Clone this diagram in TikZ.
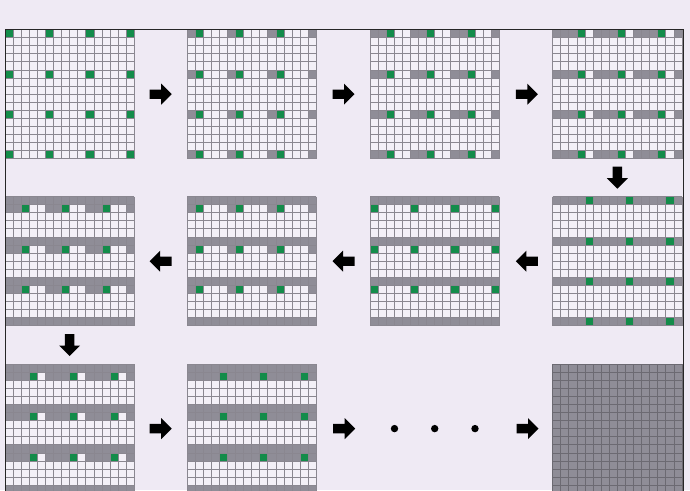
\documentclass[tikz,border=0pt]{standalone}
\definecolor{bg}{HTML}{EFEAF4}
\definecolor{cellc}{HTML}{F3F0F7}
\definecolor{grayc}{HTML}{8F8D97}
\definecolor{greenc}{HTML}{138C4A}
\definecolor{linec}{HTML}{8A8790}
\definecolor{darkline}{HTML}{6C6A72}
\def\cs{8.08}
\newcommand\Cells[5]{\foreach \ri in {#3}{\foreach \ci in {#4}{\fill[#5] ({#1+\ci*\cs},{#2+\ri*\cs}) rectangle ++(\cs,\cs);}}}
\newcommand\Rows[3]{\foreach \ri in {#3}{\fill[grayc] (#1,{#2+\ri*\cs}) rectangle ++({16*\cs},\cs);}}
\newcommand\Base[2]{\fill[cellc] (#1,#2) rectangle ++({16*\cs},{16*\cs});}
\newcommand\Lines[3]{\foreach \ii in {0,...,16}{\draw[#3,line width=0.75] ({#1+\ii*\cs},#2) -- ++(0,{16*\cs}); \draw[#3,line width=0.75] (#1,{#2+\ii*\cs}) -- ++({16*\cs},0);}}
\tikzset{blockarrow/.pic={\fill[black] (-11,-4.7) -- (0.5,-4.7) -- (0.5,-10.5) -- (11,0) -- (0.5,10.5) -- (0.5,4.7) -- (-11,4.7) -- cycle;},
  dotmark/.style={fill=black, circle, inner sep=0pt, minimum size=7.4pt}}
\begin{document}
\begin{tikzpicture}[x=1pt,y=-1pt]
\useasboundingbox (0,0) rectangle (690,490);
\fill[bg] (0,0) rectangle (690,490);
\clip (0,0) rectangle (690,490);
% Grid A
\Base{5}{29.5}
\Cells{5}{29.5}{0,5,10,15}{0,5,10,15}{greenc}
\Lines{5}{29.5}{linec}
% Grid B
\Base{187}{29.5}
\Cells{187}{29.5}{0,5,10,15}{0,5,10,15}{grayc}
\Cells{187}{29.5}{0,5,10,15}{1,6,11}{greenc}
\Lines{187}{29.5}{linec}
% Grid C
\Base{370}{29.5}
\Cells{370}{29.5}{0,5,10,15}{0,1,5,6,10,11,15}{grayc}
\Cells{370}{29.5}{0,5,10,15}{2,7,12}{greenc}
\Lines{370}{29.5}{linec}
% Grid D
\Base{552.7}{29.5}
\Cells{552.7}{29.5}{0,5,10,15}{0,1,2,5,6,7,10,11,12,15}{grayc}
\Cells{552.7}{29.5}{0,5,10,15}{3,8,13}{greenc}
\Lines{552.7}{29.5}{linec}
% Grid E
\Base{552.7}{196.5}
\Rows{552.7}{196.5}{0,5,10,15}
\Cells{552.7}{196.5}{0,5,10,15}{4,9,14}{greenc}
\Lines{552.7}{196.5}{linec}
% Grid F
\Base{370}{196.5}
\Rows{370}{196.5}{0,5,10,15}
\Cells{370}{196.5}{1,6,11}{0,5,10,15}{greenc}
\Lines{370}{196.5}{linec}
% Grid G
\Base{187}{196.5}
\Rows{187}{196.5}{0,5,10,15}
\Cells{187}{196.5}{1,6,11}{0,5,10,15}{grayc}
\Cells{187}{196.5}{1,6,11}{1,6,11}{greenc}
\Lines{187}{196.5}{linec}
% Grid H
\Base{5}{196.5}
\Rows{5}{196.5}{0,5,10,15}
\Cells{5}{196.5}{1,6,11}{0,1,5,6,10,11,15}{grayc}
\Cells{5}{196.5}{1,6,11}{2,7,12}{greenc}
\Lines{5}{196.5}{linec}
% Grid I
\Base{5}{364}
\Rows{5}{364}{0,5,10,15}
\Cells{5}{364}{1,6,11}{0,1,2,5,6,7,10,11,12,15}{grayc}
\Cells{5}{364}{1,6,11}{3,8,13}{greenc}
\Lines{5}{364}{linec}
% Grid J
\Base{187}{364}
\Rows{187}{364}{0,1,5,6,10,11,15}
\Cells{187}{364}{1,6,11}{4,9,14}{greenc}
\Lines{187}{364}{linec}
% Grid K
\fill[grayc] (552.7,364) rectangle ++({16*\cs},{16*\cs});
\Lines{552.7}{364}{darkline}
% frame
\draw[black!85, line width=0.9] (5,600) -- (5,29.2) -- (683,29.2) -- (683,600);
% arrows
\coordinate (a1) at (160.7,94.2);
\coordinate (a2) at (343.5,94.2);
\coordinate (a3) at (526.8,94.2);
\coordinate (d1) at (617.3,177.7);
\coordinate (b1) at (526.8,261.2);
\coordinate (b2) at (343.5,261.2);
\coordinate (b3) at (160.7,261.2);
\coordinate (d2) at (69.6,345);
\coordinate (c1) at (160.7,428.6);
\coordinate (c2) at (344.2,428.6);
\coordinate (c3) at (527.5,428.6);
\pic at (a1) {blockarrow};
\pic at (a2) {blockarrow};
\pic at (a3) {blockarrow};
\pic[rotate=-90] at (d1) {blockarrow};
\pic[rotate=180] at (b1) {blockarrow};
\pic[rotate=180] at (b2) {blockarrow};
\pic[rotate=180] at (b3) {blockarrow};
\pic[rotate=-90] at (d2) {blockarrow};
\pic at (c1) {blockarrow};
\pic at (c2) {blockarrow};
\pic at (c3) {blockarrow};
\node[dotmark] (p1) at (394.5,428.6) {};
\node[dotmark] (p2) at (434.7,428.6) {};
\node[dotmark] (p3) at (475,428.6) {};
\end{tikzpicture}
\end{document}
